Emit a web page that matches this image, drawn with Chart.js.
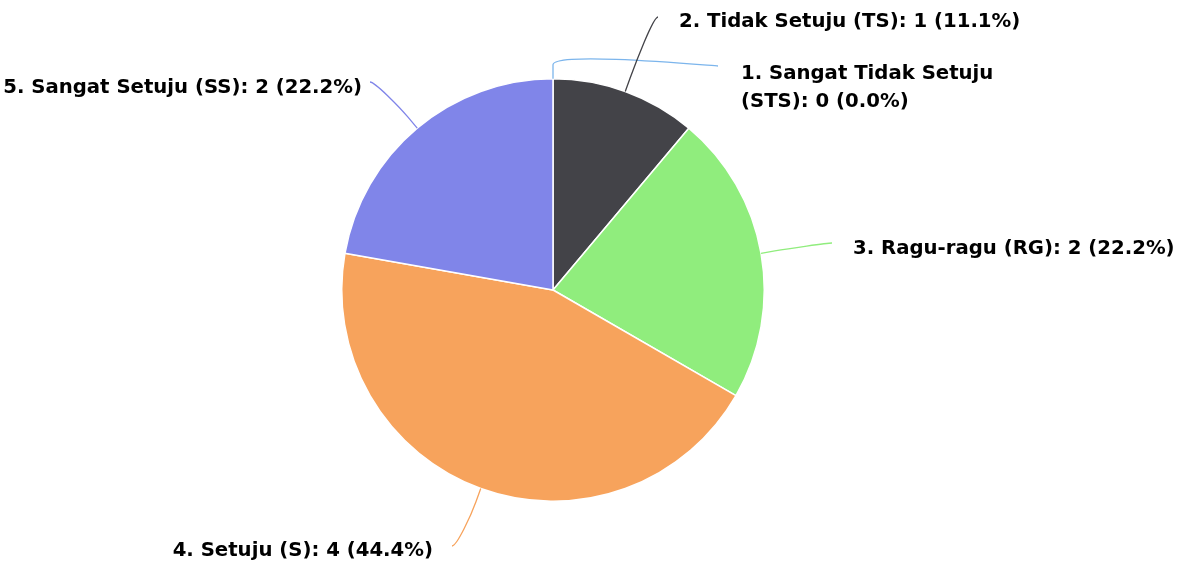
<!DOCTYPE html>
<html>
<head>
<meta charset="utf-8">
<script src="https://cdn.jsdelivr.net/npm/chart.js@4/dist/chart.umd.min.js"></script>
<style>
  html, body { margin: 0; padding: 0; background: #ffffff; }
  #wrap { width: 1201px; height: 564px; }
</style>
</head>
<body>
<div id="wrap"><canvas id="c" width="1201" height="564"></canvas></div>
<script>
const categories = [
  "1. Sangat Tidak Setuju (STS)",
  "2. Tidak Setuju (TS)",
  "3. Ragu-ragu (RG)",
  "4. Setuju (S)",
  "5. Sangat Setuju (SS)"
];
const counts = [0, 1, 2, 4, 2];
const colors = ["#7cb5ec", "#434348", "#90ed7d", "#f7a35c", "#8085e9"];

// label placement (connector end point, alignment, text offset, wrapped lines)
const labelPlacement = [
  { x: 718, y: 66, align: "left", dx: 23, dy: 8, wrap: true },
  { x: 658, y: 17, align: "left", dx: 21, dy: 5 },
  { x: 832, y: 243, align: "left", dx: 21, dy: 6 },
  { x: 452, y: 546, align: "right", dx: -19, dy: 5 },
  { x: 370, y: 82, align: "right", dx: -8, dy: 6 }
];

const total = counts.reduce((a, b) => a + b, 0);
function labelText(i) {
  const pct = (counts[i] / total * 100).toFixed(1);
  return categories[i] + ": " + counts[i] + " (" + pct + "%)";
}

const labelPlugin = {
  id: "hcLabels",
  afterDatasetsDraw(chart) {
    const ctx = chart.ctx;
    const meta = chart.getDatasetMeta(0);
    ctx.save();
    meta.data.forEach((arc, i) => {
      const p = arc.getProps(["x", "y", "startAngle", "endAngle", "outerRadius"], true);
      const mid = (p.startAngle + p.endAngle) / 2;
      const cos = Math.cos(mid), sin = Math.sin(mid);
      const touch = { x: p.x + p.outerRadius * cos, y: p.y + p.outerRadius * sin };
      const off = 14;
      const brk = { x: p.x + (p.outerRadius + off) * cos, y: p.y + (p.outerRadius + off) * sin };
      const lp = labelPlacement[i];
      ctx.beginPath();
      ctx.moveTo(lp.x, lp.y);
      ctx.bezierCurveTo(lp.x + (lp.align === "left" ? -5 : 5), lp.y,
        2 * brk.x - touch.x, 2 * brk.y - touch.y, brk.x, brk.y);
      ctx.lineTo(touch.x, touch.y);
      ctx.strokeStyle = colors[i];
      ctx.lineWidth = 1.3;
      ctx.stroke();

      ctx.font = "bold 19.7px 'DejaVu Sans', sans-serif";
      ctx.fillStyle = "#000000";
      ctx.textAlign = lp.align;
      ctx.textBaseline = "middle";
      const tx = lp.x + lp.dx;
      let ty = lp.y + lp.dy;
      if (lp.wrap) {
        const pct = (counts[i] / total * 100).toFixed(1);
        const m = categories[i].match(/^(.*) (\(.*\))$/);
        ctx.fillText(m[1], tx, ty);
        ctx.fillText(m[2] + ": " + counts[i] + " (" + pct + "%)", tx, ty + 28);
      } else {
        ctx.fillText(labelText(i), tx, ty);
      }
    });
    ctx.restore();
  }
};

new Chart(document.getElementById("c"), {
  type: "pie",
  data: {
    labels: categories,
    datasets: [{
      data: counts,
      backgroundColor: colors,
      borderColor: "#ffffff",
      borderWidth: 1.5,
      hoverOffset: 0
    }]
  },
  options: {
    responsive: false,
    animation: false,
    layout: { padding: { left: 0, right: 95, top: 78, bottom: 62 } },
    plugins: {
      legend: { display: false },
      tooltip: { enabled: false },
      title: { display: false }
    }
  },
  plugins: [labelPlugin]
});
</script>
</body>
</html>
